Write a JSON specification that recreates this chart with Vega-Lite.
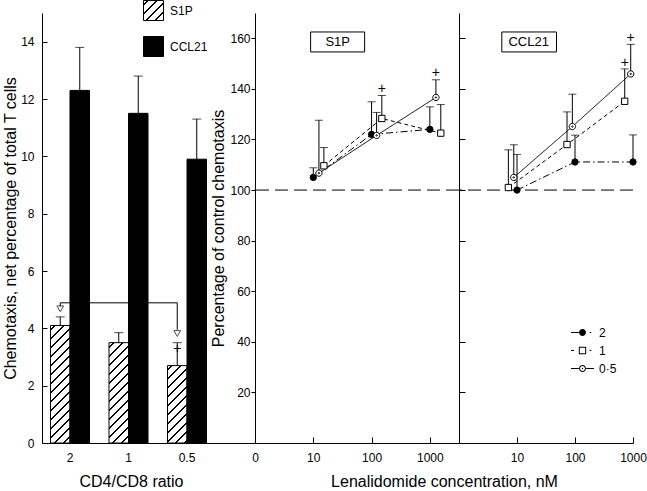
{
  "$schema": "https://vega.github.io/schema/vega-lite/v6.json",
  "padding": {"left": 2, "top": 0, "right": 2, "bottom": 2},
  "background": "white",
  "params": [
    {"name": "hs", "value": [
      {"offset": 0, "color": "white"},
      {"offset": 0.0254, "color": "white"}, {"offset": 0.0254, "color": "black"}, {"offset": 0.0404, "color": "black"}, {"offset": 0.0404, "color": "white"},
      {"offset": 0.0912, "color": "white"}, {"offset": 0.0912, "color": "black"}, {"offset": 0.1062, "color": "black"}, {"offset": 0.1062, "color": "white"},
      {"offset": 0.1570, "color": "white"}, {"offset": 0.1570, "color": "black"}, {"offset": 0.1720, "color": "black"}, {"offset": 0.1720, "color": "white"},
      {"offset": 0.2228, "color": "white"}, {"offset": 0.2228, "color": "black"}, {"offset": 0.2378, "color": "black"}, {"offset": 0.2378, "color": "white"},
      {"offset": 0.2886, "color": "white"}, {"offset": 0.2886, "color": "black"}, {"offset": 0.3036, "color": "black"}, {"offset": 0.3036, "color": "white"},
      {"offset": 0.3543, "color": "white"}, {"offset": 0.3543, "color": "black"}, {"offset": 0.3693, "color": "black"}, {"offset": 0.3693, "color": "white"},
      {"offset": 0.4201, "color": "white"}, {"offset": 0.4201, "color": "black"}, {"offset": 0.4351, "color": "black"}, {"offset": 0.4351, "color": "white"},
      {"offset": 0.4859, "color": "white"}, {"offset": 0.4859, "color": "black"}, {"offset": 0.5009, "color": "black"}, {"offset": 0.5009, "color": "white"},
      {"offset": 0.5517, "color": "white"}, {"offset": 0.5517, "color": "black"}, {"offset": 0.5667, "color": "black"}, {"offset": 0.5667, "color": "white"},
      {"offset": 0.6175, "color": "white"}, {"offset": 0.6175, "color": "black"}, {"offset": 0.6325, "color": "black"}, {"offset": 0.6325, "color": "white"},
      {"offset": 0.6833, "color": "white"}, {"offset": 0.6833, "color": "black"}, {"offset": 0.6983, "color": "black"}, {"offset": 0.6983, "color": "white"},
      {"offset": 0.7491, "color": "white"}, {"offset": 0.7491, "color": "black"}, {"offset": 0.7641, "color": "black"}, {"offset": 0.7641, "color": "white"},
      {"offset": 0.8149, "color": "white"}, {"offset": 0.8149, "color": "black"}, {"offset": 0.8299, "color": "black"}, {"offset": 0.8299, "color": "white"},
      {"offset": 0.8807, "color": "white"}, {"offset": 0.8807, "color": "black"}, {"offset": 0.8957, "color": "black"}, {"offset": 0.8957, "color": "white"},
      {"offset": 0.9464, "color": "white"}, {"offset": 0.9464, "color": "black"}, {"offset": 0.9614, "color": "black"}, {"offset": 0.9614, "color": "white"},
      {"offset": 1, "color": "white"}
    ]},
    {"name": "ls", "value": [
      {"offset": 0, "color": "white"},
      {"offset": 0.086, "color": "white"}, {"offset": 0.086, "color": "black"}, {"offset": 0.139, "color": "black"}, {"offset": 0.139, "color": "white"},
      {"offset": 0.311, "color": "white"}, {"offset": 0.311, "color": "black"}, {"offset": 0.364, "color": "black"}, {"offset": 0.364, "color": "white"},
      {"offset": 0.536, "color": "white"}, {"offset": 0.536, "color": "black"}, {"offset": 0.589, "color": "black"}, {"offset": 0.589, "color": "white"},
      {"offset": 0.761, "color": "white"}, {"offset": 0.761, "color": "black"}, {"offset": 0.814, "color": "black"}, {"offset": 0.814, "color": "white"},
      {"offset": 1, "color": "white"}
    ]}
  ],
  "datasets": {
    "bars": [
      {"ratio": "2", "series": "S1P", "value": 4.1, "upper": 4.4},
      {"ratio": "2", "series": "CCL21", "value": 12.3, "upper": 13.8},
      {"ratio": "1", "series": "S1P", "value": 3.5, "upper": 3.85},
      {"ratio": "1", "series": "CCL21", "value": 11.5, "upper": 12.8},
      {"ratio": "0.5", "series": "S1P", "value": 2.7, "upper": 3.5},
      {"ratio": "0.5", "series": "CCL21", "value": 9.9, "upper": 11.3}
    ],
    "tri": [
      {"ratio": "2", "series": "S1P", "value": 4.68},
      {"ratio": "0.5", "series": "S1P", "value": 3.82}
    ],
    "bracket": [
      {"ratio": "2", "series": "S1P", "value": 4.77, "step": 1},
      {"ratio": "2", "series": "S1P", "value": 4.89, "step": 2},
      {"ratio": "0.5", "series": "S1P", "value": 4.89, "step": 3},
      {"ratio": "0.5", "series": "S1P", "value": 3.95, "step": 4}
    ],
    "barplus": [
      {"ratio": "0.5", "series": "S1P", "value": 3.28}
    ],
    "pts": [
      {"panel": "S1P", "series": "2", "conc": 10, "value": 105.0, "upper": 108.8},
      {"panel": "S1P", "series": "2", "conc": 100, "value": 122.0, "upper": 134.9},
      {"panel": "S1P", "series": "2", "conc": 1000, "value": 124.0, "upper": 132.9},
      {"panel": "S1P", "series": "0.5", "conc": 12.5, "value": 106.7, "upper": 127.6},
      {"panel": "S1P", "series": "0.5", "conc": 122, "value": 121.6, "upper": 130.7},
      {"panel": "S1P", "series": "0.5", "conc": 1270, "value": 136.6, "upper": 143.6},
      {"panel": "S1P", "series": "1", "conc": 15.2, "value": 109.6, "upper": 116.8},
      {"panel": "S1P", "series": "1", "conc": 150, "value": 128.3, "upper": 137.4},
      {"panel": "S1P", "series": "1", "conc": 1540, "value": 122.5, "upper": 133.8},
      {"panel": "CCL21", "series": "1", "conc": 7.1, "value": 101.0, "upper": 115.9},
      {"panel": "CCL21", "series": "1", "conc": 72.8, "value": 118.0, "upper": 130.9},
      {"panel": "CCL21", "series": "1", "conc": 720, "value": 135.1, "upper": 147.9},
      {"panel": "CCL21", "series": "0.5", "conc": 8.8, "value": 105.0, "upper": 117.9},
      {"panel": "CCL21", "series": "0.5", "conc": 90, "value": 125.1, "upper": 137.9},
      {"panel": "CCL21", "series": "0.5", "conc": 913, "value": 145.9, "upper": 157.6},
      {"panel": "CCL21", "series": "2", "conc": 10, "value": 100.0, "upper": 114.1},
      {"panel": "CCL21", "series": "2", "conc": 100, "value": 111.1, "upper": 121.7},
      {"panel": "CCL21", "series": "2", "conc": 1000, "value": 111.1, "upper": 121.8}
    ],
    "plus": [
      {"panel": "S1P", "conc": 150, "value": 140.0},
      {"panel": "S1P", "conc": 1270, "value": 146.2},
      {"panel": "CCL21", "conc": 720, "value": 150.4},
      {"panel": "CCL21", "conc": 913, "value": 160.0}
    ]
  },
  "spacing": 0,
  "bounds": "flush",
  "resolve": {"scale": {"fill": "independent", "shape": "independent", "strokeDash": "independent", "xOffset": "independent"}},
  "hconcat": [
    {
      "width": 213,
      "height": 430,
      "layer": [
        {
          "data": {"name": "bars"},
          "mark": {"type": "bar", "stroke": "black", "strokeWidth": 1},
          "encoding": {
            "x": {"field": "ratio", "type": "nominal", "sort": ["2", "1", "0.5"],
                  "scale": {"domain": ["2", "1", "0.5"], "paddingInner": 0.333, "paddingOuter": 0.487, "align": 0.149},
                  "axis": {"title": "CD4/CD8 ratio", "titleX": 89, "titlePadding": 10, "ticks": false, "labelPadding": 9, "labelAngle": 0}},
            "xOffset": {"field": "series", "type": "nominal", "scale": {"domain": ["S1P", "CCL21"], "paddingInner": 0, "paddingOuter": 0}},
            "y": {"field": "value", "type": "quantitative", "scale": {"domain": [0, 15], "nice": false},
                  "axis": {"title": "Chemotaxis, net percentage of total T cells", "values": [0, 2, 4, 6, 8, 10, 12, 14], "tickSize": -5, "labelPadding": 13, "titlePadding": 2}},
            "fill": {
              "condition": {"test": "datum.series === 'S1P'", "value": {"expr": "{gradient: 'linear', x1: 0, y1: 0, x2: datum.ratio === '2' ? 0.1883 : datum.ratio === '1' ? 0.2559 : 0.4193, y2: datum.ratio === '2' ? 1.1348 : datum.ratio === '1' ? 1.3162 : 1.6644, stops: hs}"}},
              "field": "series", "type": "nominal",
              "scale": {"domain": ["S1P", "CCL21"], "range": [{"expr": "{gradient: 'linear', x1: 0, y1: 0, x2: 1, y2: 1, stops: ls}"}, "black"]},
              "legend": {"orient": "none", "legendX": 101, "legendY": -13, "title": null, "symbolType": "square", "symbolSize": 400,
                         "symbolStrokeColor": "black", "symbolStrokeWidth": 1, "rowPadding": 11, "labelOffset": 6, "labelFontSize": 12, "padding": 0}
            }
          }
        },
        {
          "data": {"name": "bars"},
          "mark": {"type": "rule", "color": "black", "strokeWidth": 1},
          "encoding": {
            "x": {"field": "ratio", "type": "nominal", "sort": ["2", "1", "0.5"], "scale": {"domain": ["2", "1", "0.5"]}},
            "xOffset": {"field": "series", "type": "nominal", "scale": {"domain": ["S1P", "CCL21"]}},
            "y": {"field": "value", "type": "quantitative"},
            "y2": {"field": "upper"}
          }
        },
        {
          "data": {"name": "bars"},
          "mark": {"type": "tick", "orient": "horizontal", "size": 9, "thickness": 1, "color": "black"},
          "encoding": {
            "x": {"field": "ratio", "type": "nominal", "sort": ["2", "1", "0.5"], "scale": {"domain": ["2", "1", "0.5"]}},
            "xOffset": {"field": "series", "type": "nominal", "scale": {"domain": ["S1P", "CCL21"]}},
            "y": {"field": "upper", "type": "quantitative"}
          }
        },
        {
          "data": {"name": "bracket"},
          "mark": {"type": "line", "color": "black", "strokeWidth": 1},
          "encoding": {
            "x": {"field": "ratio", "type": "nominal", "sort": ["2", "1", "0.5"], "scale": {"domain": ["2", "1", "0.5"]}},
            "xOffset": {"field": "series", "type": "nominal", "scale": {"domain": ["S1P", "CCL21"]}},
            "y": {"field": "value", "type": "quantitative"},
            "order": {"field": "step"}
          }
        },
        {
          "data": {"name": "tri"},
          "mark": {"type": "point", "shape": "triangle-down", "filled": false, "stroke": "black", "strokeWidth": 1, "size": 45},
          "encoding": {
            "x": {"field": "ratio", "type": "nominal", "sort": ["2", "1", "0.5"], "scale": {"domain": ["2", "1", "0.5"]}},
            "xOffset": {"field": "series", "type": "nominal", "scale": {"domain": ["S1P", "CCL21"]}},
            "y": {"field": "value", "type": "quantitative"}
          }
        },
        {
          "data": {"name": "barplus"},
          "mark": {"type": "text", "text": "+", "fontSize": 14, "color": "black", "baseline": "middle", "align": "center"},
          "encoding": {
            "x": {"field": "ratio", "type": "nominal", "sort": ["2", "1", "0.5"], "scale": {"domain": ["2", "1", "0.5"]}},
            "xOffset": {"field": "series", "type": "nominal", "scale": {"domain": ["S1P", "CCL21"]}},
            "y": {"field": "value", "type": "quantitative"}
          }
        }
      ]
    },
    {
      "width": 204,
      "height": 430,
      "data": {"name": "pts"},
      "transform": [{"filter": "datum.panel === 'S1P'"}],
      "layer": [
        {
          "data": {"values": [{}]},
          "mark": {"type": "rule", "color": "black", "strokeWidth": 1, "strokeDash": [13, 6]},
          "encoding": {
            "y": {"datum": 100, "type": "quantitative", "scale": {"domain": [0, 170], "nice": false},
                  "axis": {"title": "Percentage of control chemotaxis", "values": [20, 40, 60, 80, 100, 120, 140, 160], "tickSize": 4, "labelPadding": 1, "titlePadding": 3}}
          }
        },
        {
          "mark": {"type": "rule", "color": "black", "strokeWidth": 1},
          "encoding": {
            "x": {"field": "conc", "type": "quantitative", "scale": {"type": "log", "domain": [1, 3162], "nice": false},
                  "axis": {"title": "Lenalidomide concentration, nM", "titleX": 189, "titlePadding": 10, "values": [1, 10, 100, 1000], "format": "d",
                           "labelExpr": "datum.value === 1 ? '0' : datum.label", "tickSize": -6, "labelPadding": 15}},
            "y": {"field": "value", "type": "quantitative"},
            "y2": {"field": "upper"}
          }
        },
        {
          "mark": {"type": "tick", "orient": "horizontal", "size": 8, "thickness": 1, "color": "black"},
          "encoding": {
            "x": {"field": "conc", "type": "quantitative"},
            "y": {"field": "upper", "type": "quantitative"}
          }
        },
        {
          "mark": {"type": "line", "color": "black", "strokeWidth": 1},
          "encoding": {
            "x": {"field": "conc", "type": "quantitative"},
            "y": {"field": "value", "type": "quantitative"},
            "strokeDash": {"field": "series", "type": "nominal", "scale": {"domain": ["2", "1", "0.5"], "range": [[7, 3, 1.5, 3], [4, 3], [1, 0]]}, "legend": null}
          }
        },
        {
          "mark": {"type": "point", "filled": true, "stroke": "black", "strokeWidth": 1, "size": 40, "opacity": 1},
          "encoding": {
            "x": {"field": "conc", "type": "quantitative"},
            "y": {"field": "value", "type": "quantitative"},
            "shape": {"field": "series", "type": "nominal", "sort": "descending", "scale": {"range": ["circle", "square", "M-1,0A1,1,0,1,0,1,0A1,1,0,1,0,-1,0ZM-0.22,0A0.22,0.22,0,1,0,0.22,0A0.22,0.22,0,1,0,-0.22,0Z"]}, "legend": null},
            "fill": {"field": "series", "type": "nominal", "sort": "descending", "scale": {"range": ["black", "white", "white"]}, "legend": null}
          }
        },
        {
          "data": {"name": "plus"},
          "transform": [{"filter": "datum.panel === 'S1P'"}],
          "mark": {"type": "text", "text": "+", "fontSize": 14, "color": "black", "baseline": "middle", "align": "center"},
          "encoding": {
            "x": {"field": "conc", "type": "quantitative"},
            "y": {"field": "value", "type": "quantitative"}
          }
        },
        {
          "data": {"values": [{}]},
          "mark": {"type": "rect", "fill": "white", "stroke": "black", "strokeWidth": 1},
          "encoding": {
            "x": {"datum": 9, "type": "quantitative"},
            "x2": {"datum": 76},
            "y": {"datum": 162.5, "type": "quantitative"},
            "y2": {"datum": 154.6}
          }
        },
        {
          "data": {"values": [{}]},
          "mark": {"type": "text", "text": "S1P", "fontSize": 13, "color": "black", "baseline": "middle", "align": "center"},
          "encoding": {
            "x": {"datum": 26.2, "type": "quantitative"},
            "y": {"datum": 158.5, "type": "quantitative"}
          }
        }
      ]
    },
    {
      "width": 174,
      "height": 430,
      "data": {"name": "pts"},
      "transform": [{"filter": "datum.panel === 'CCL21'"}],
      "resolve": {"scale": {"shape": "independent"}},
      "layer": [
        {
          "data": {"values": [{}]},
          "mark": {"type": "rule", "color": "black", "strokeWidth": 1, "strokeDash": [13, 6]},
          "encoding": {
            "y": {"datum": 100, "type": "quantitative", "scale": {"domain": [0, 170], "nice": false},
                  "axis": {"title": null, "labels": false, "values": [20, 40, 60, 80, 100, 120, 140, 160], "tickSize": -6}}
          }
        },
        {
          "mark": {"type": "rule", "color": "black", "strokeWidth": 1},
          "encoding": {
            "x": {"field": "conc", "type": "quantitative", "scale": {"type": "log", "domain": [1, 1000], "nice": false},
                  "axis": {"title": null, "values": [10, 100, 1000], "format": "d", "tickSize": -6, "labelPadding": 15}},
            "y": {"field": "value", "type": "quantitative"},
            "y2": {"field": "upper"}
          }
        },
        {
          "mark": {"type": "tick", "orient": "horizontal", "size": 8, "thickness": 1, "color": "black"},
          "encoding": {
            "x": {"field": "conc", "type": "quantitative"},
            "y": {"field": "upper", "type": "quantitative"}
          }
        },
        {
          "mark": {"type": "line", "color": "black", "strokeWidth": 1},
          "encoding": {
            "x": {"field": "conc", "type": "quantitative"},
            "y": {"field": "value", "type": "quantitative"},
            "strokeDash": {"field": "series", "type": "nominal", "scale": {"domain": ["2", "1", "0.5"], "range": [[7, 3, 1.5, 3], [4, 3], [1, 0]]}, "legend": null}
          }
        },
        {
          "mark": {"type": "point", "filled": true, "stroke": "black", "strokeWidth": 1, "size": 40, "opacity": 1},
          "encoding": {
            "x": {"field": "conc", "type": "quantitative"},
            "y": {"field": "value", "type": "quantitative"},
            "shape": {"field": "series", "type": "nominal", "sort": "descending", "scale": {"range": ["circle", "square", "M-1,0A1,1,0,1,0,1,0A1,1,0,1,0,-1,0ZM-0.22,0A0.22,0.22,0,1,0,0.22,0A0.22,0.22,0,1,0,-0.22,0Z"]}, "legend": null},
            "fill": {"field": "series", "type": "nominal", "sort": "descending", "scale": {"range": ["black", "white", "white"]}, "legend": null}
          }
        },
        {
          "transform": [{"filter": "false"}],
          "mark": {"type": "point", "filled": true, "color": "black", "strokeWidth": 0, "opacity": 1, "size": 40},
          "encoding": {
            "x": {"field": "conc", "type": "quantitative"},
            "y": {"field": "value", "type": "quantitative"},
            "shape": {"field": "series", "type": "nominal",
                      "scale": {"domain": ["2", "1", "0.5"], "range": [
                        "M-1,-0.045H-0.32V0.045H-1ZM-0.3,0A0.3,0.3,0,1,0,0.3,0A0.3,0.3,0,1,0,-0.3,0ZM0.62,-0.045H0.76V0.045H0.62Z",
                        "M-1,-0.045H-0.74V0.045H-1ZM-0.32,-0.32H0.32V0.32H-0.32ZM-0.233,-0.233V0.233H0.233V-0.233ZM0.62,-0.045H0.76V0.045H0.62Z",
                        "M-1,-0.045H-0.32V0.045H-1ZM0.32,-0.045H1V0.045H0.32ZM-0.3,0A0.3,0.3,0,1,0,0.3,0A0.3,0.3,0,1,0,-0.3,0ZM-0.213,0A0.213,0.213,0,1,1,0.213,0A0.213,0.213,0,1,1,-0.213,0ZM-0.06,0A0.06,0.06,0,1,0,0.06,0A0.06,0.06,0,1,0,-0.06,0Z"
                      ]},
                      "legend": {"orient": "none", "legendX": 112, "legendY": 308, "title": null, "symbolSize": 529, "symbolOpacity": 1,
                                 "symbolFillColor": "black", "symbolStrokeColor": "transparent", "symbolStrokeWidth": 0,
                                 "labelExpr": "replace(datum.label, '.', '·')", "labelFontSize": 12, "labelOffset": 5, "padding": 0, "rowPadding": -4}}
          }
        },
        {
          "data": {"name": "plus"},
          "transform": [{"filter": "datum.panel === 'CCL21'"}],
          "mark": {"type": "text", "text": "+", "fontSize": 14, "color": "black", "baseline": "middle", "align": "center"},
          "encoding": {
            "x": {"field": "conc", "type": "quantitative"},
            "y": {"field": "value", "type": "quantitative"}
          }
        },
        {
          "data": {"values": [{}]},
          "mark": {"type": "rect", "fill": "white", "stroke": "black", "strokeWidth": 1},
          "encoding": {
            "x": {"datum": 5.47, "type": "quantitative"},
            "x2": {"datum": 48},
            "y": {"datum": 162.5, "type": "quantitative"},
            "y2": {"datum": 154.6}
          }
        },
        {
          "data": {"values": [{}]},
          "mark": {"type": "text", "text": "CCL21", "fontSize": 13, "color": "black", "baseline": "middle", "align": "center"},
          "encoding": {
            "x": {"datum": 15.9, "type": "quantitative"},
            "y": {"datum": 158.5, "type": "quantitative"}
          }
        }
      ]
    }
  ],
  "config": {
    "font": "Liberation Sans",
    "view": {"stroke": null},
    "axis": {"grid": false, "domainColor": "black", "tickColor": "black", "labelColor": "black", "titleColor": "black",
             "labelFontSize": 12, "titleFontSize": 16, "titleFontWeight": "normal", "labelFlush": false, "labelOverlap": false,
             "domainWidth": 1, "tickWidth": 1},
    "legend": {"labelColor": "black", "labelFontSize": 12}
  }
}
